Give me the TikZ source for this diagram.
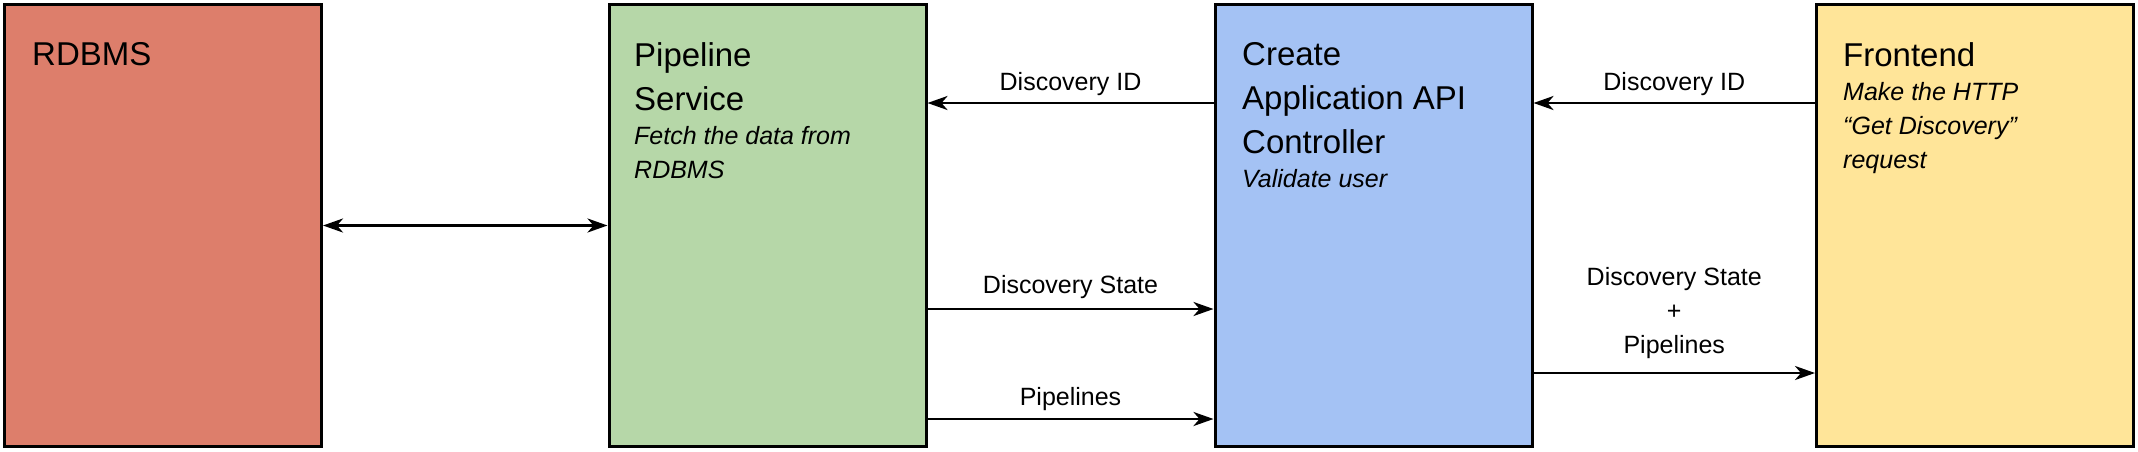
\documentclass[tikz,border=0pt]{standalone}
\usepackage{fontspec}
\setmainfont{Liberation Sans}
\usetikzlibrary{arrows.meta}
\setlength{\parindent}{0pt}
\definecolor{rdbred}{RGB}{221,126,107}
\definecolor{pipegreen}{RGB}{182,215,168}
\definecolor{apiblue}{RGB}{164,194,244}
\definecolor{feyellow}{RGB}{255,229,153}
\begin{document}
\begin{tikzpicture}[x=1pt,y=-1pt,
  box/.style={draw=black, line width=3pt, minimum width=317pt, minimum height=442pt, inner sep=0pt, anchor=center},
  boxtext/.style={anchor=north west, inner sep=0pt, text width=290pt, align=flush left, font=\fontsize{33}{44}\selectfont},
  tip/.tip={Stealth[length=20pt,width=14pt,inset=6pt]},
  conn/.style={line width=2.8pt, -tip},
  lbl/.style={font=\fontsize{25}{34}\selectfont, inner sep=0pt, align=center}]
\useasboundingbox (0,0) rectangle (2138,451);
% boxes
\node[box, fill=rdbred] (rdbms) at (163,225.5) {};
\node[box, fill=pipegreen] (pipe) at (767.5,225.5) {};
\node[box, fill=apiblue] (api) at (1373.5,225.5) {};
\node[box, fill=feyellow] (fe) at (1975,225.5) {};
% box texts
\node[boxtext] (rdbmst) at (32,42) {RDBMS};
\node[boxtext] (pipet) at (634,42) {Pipeline\\Service\par\noindent\fontsize{25}{34}\selectfont\itshape Fetch the data from\\RDBMS\par};
\node[boxtext] (apit) at (1242,42) {Create\\Application API\\Controller\par\noindent\fontsize{25}{34}\selectfont\itshape Validate user\par};
\node[boxtext] (fet) at (1843,42) {Frontend\par\noindent\fontsize{25}{34}\selectfont\itshape Make the HTTP\\“Get Discovery”\\request\par};
% rows
\coordinate (yid) at (0,103);
\coordinate (yds) at (0,309);
\coordinate (ypl) at (0,419);
\coordinate (ydsp) at (0,373);
% connectors
\draw[conn, tip-tip] (rdbms.east) -- (pipe.west);
\draw[conn] (api.west |- yid) -- node[lbl, above=5.75pt] (l1) {Discovery ID} (pipe.east |- yid);
\draw[conn] (pipe.east |- yds) -- node[lbl, above=8.75pt] (l2) {Discovery State} (api.west |- yds);
\draw[conn] (pipe.east |- ypl) -- node[lbl, above=6.75pt] (l3) {Pipelines} (api.west |- ypl);
\draw[conn] (fe.west |- yid) -- node[lbl, above=5.75pt] (l4) {Discovery ID} (api.east |- yid);
\draw[conn] (api.east |- ydsp) -- node[lbl, above=12.75pt] (l5) {Discovery State\\+\\Pipelines} (fe.west |- ydsp);
\end{tikzpicture}
\end{document}
